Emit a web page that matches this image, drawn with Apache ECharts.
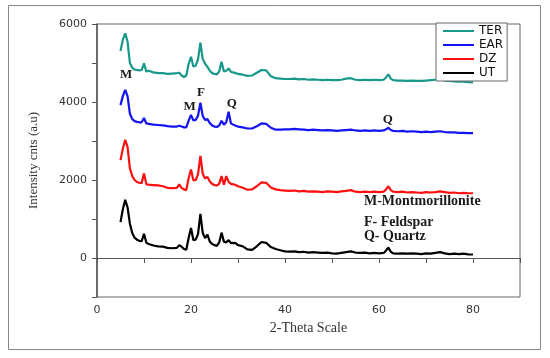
<!DOCTYPE html>
<html><head><meta charset="utf-8">
<script src="https://cdn.jsdelivr.net/npm/echarts@6/dist/echarts.min.js"></script>
<style>html,body{margin:0;padding:0;background:#fff}#c{width:550px;height:358px}</style>
</head><body><div id="c"></div>
<script>
const twoTheta = [5,5.5,6,6.5,7,7.5,8,8.5,9,9.5,10,10.5,11,12,13,14,15,16,17,17.5,18,18.5,19,19.5,20,20.5,21,21.5,22,22.5,23,23.5,24,24.5,25,25.5,26,26.5,27,27.5,28,28.5,29,29.5,30,31,32,33,34,35,36,37,38,39,40,41,42,43,44,45,46,47,48,49,50,51,52,53,54,55,56,57,58,59,60,61,61.5,62,62.5,63,64,65,66,67,68,69,70,71,72,73,74,75,76,77,78,79,80];
const UT = [920,1250,1490,1300,880,640,520,470,440,430,620,390,360,320,300,290,260,250,260,330,290,230,210,520,770,460,470,620,1130,640,510,600,420,360,330,310,400,650,420,400,460,380,390,380,330,300,220,210,300,410,390,280,230,200,170,165,170,150,160,140,150,140,130,140,120,110,130,150,170,140,130,140,120,130,120,130,190,270,160,120,110,120,110,120,110,100,120,110,130,150,120,100,110,100,110,95,90];
const DZ = [2510,2800,3030,2850,2300,2100,2000,1950,1930,1920,2170,1890,1880,1870,1860,1840,1800,1790,1800,1890,1800,1760,1740,2050,2270,1990,2000,2150,2620,2160,2040,2080,1960,1900,1870,1860,1900,2100,1880,2100,1950,1900,1890,1870,1840,1800,1750,1760,1840,1940,1930,1810,1760,1740,1730,1720,1730,1710,1720,1700,1710,1700,1690,1710,1700,1690,1710,1720,1740,1700,1690,1700,1690,1700,1690,1700,1760,1840,1740,1700,1690,1700,1680,1690,1680,1670,1690,1680,1690,1710,1690,1670,1680,1660,1670,1660,1660];
const EAR = [3920,4150,4310,4150,3700,3560,3510,3490,3480,3480,3590,3450,3440,3420,3410,3400,3380,3370,3370,3390,3370,3350,3350,3520,3670,3530,3540,3650,3980,3640,3540,3560,3460,3400,3370,3360,3400,3520,3420,3480,3750,3450,3420,3390,3370,3350,3320,3320,3380,3450,3440,3340,3290,3290,3300,3300,3310,3300,3290,3280,3290,3280,3270,3280,3270,3260,3270,3280,3290,3270,3260,3270,3260,3270,3260,3270,3300,3340,3280,3260,3250,3260,3240,3250,3240,3230,3240,3230,3240,3250,3230,3220,3220,3210,3210,3200,3200];
const TER = [5310,5600,5760,5550,5000,4880,4830,4820,4810,4820,4990,4780,4800,4760,4740,4740,4720,4730,4740,4750,4680,4640,4680,4980,5160,4910,4930,5100,5520,5100,4980,4900,4800,4740,4720,4710,4780,5030,4780,4800,4860,4770,4760,4740,4720,4700,4670,4680,4750,4820,4810,4660,4610,4600,4590,4590,4600,4580,4590,4570,4580,4570,4560,4570,4560,4560,4570,4600,4610,4570,4560,4570,4560,4570,4560,4570,4630,4710,4600,4560,4550,4550,4540,4550,4540,4540,4550,4560,4570,4580,4550,4540,4530,4520,4520,4510,4505];
const seriesNames = ['TER','EAR','DZ','UT'];
const peakLabels = ['M','M','F','Q','Q'];
const peakX = [6.2,19.7,22.1,28.7,61.9];
const peakY = [4690,3870,4230,3970,3540];
const noteLines = ['M-Montmorillonite','F- Feldspar','Q- Quartz'];
const noteX = [56.8,56.8,56.8];
const noteY = [1460,920,550];

const colors = {TER:'#17988a', EAR:'#1414f0', DZ:'#ff1010', UT:'#000000'};
const dataMap = {TER:TER, EAR:EAR, DZ:DZ, UT:UT};
const pair = arr => twoTheta.map((x,i)=>[x,arr[i]]);

const chart = echarts.init(document.getElementById('c'), null, {renderer:'canvas'});
const drawOrder = ['UT','DZ','EAR','TER'];
chart.setOption({
  animation:false,
  backgroundColor:'#fff',
  grid:{left:97,right:30,top:24,bottom:61,show:true,borderColor:'#666',borderWidth:1},
  legend:{
    data:seriesNames, orient:'vertical', left:436, top:23,
    padding:[2,4,2,6], itemGap:2, itemWidth:31, itemHeight:11,
    borderColor:'#666', borderWidth:1, backgroundColor:'#fff',
    itemStyle:{opacity:0},
    textStyle:{fontFamily:'DejaVu Sans', fontSize:12, color:'#111'},
  },
  xAxis:{
    type:'value', min:0, max:90, interval:10,
    name:'2-Theta Scale', nameLocation:'middle', nameGap:23,
    nameTextStyle:{fontFamily:'Liberation Serif', fontSize:14, color:'#333'},
    axisLine:{lineStyle:{color:'#555',width:1}},
    axisTick:{show:true, inside:false, length:5, lineStyle:{color:'#555'}},
    axisLabel:{fontFamily:'DejaVu Sans', fontSize:11, color:'#333', margin:8,
      formatter:v => (v%20===0 && v<90) ? String(v) : ''},
    splitLine:{show:false}
  },
  yAxis:{
    type:'value', min:-1000, max:6000, interval:1000,
    name:'Intensity cnts (a.u)', nameLocation:'middle', nameGap:57,
    nameTextStyle:{fontFamily:'Liberation Serif', fontSize:13, color:'#333'},
    axisLine:{show:true, lineStyle:{color:'#555',width:1.5}},
    axisTick:{show:true, inside:false, length:5, lineStyle:{color:'#555'}},
    axisLabel:{fontFamily:'DejaVu Sans', fontSize:11, color:'#333', margin:10,
      formatter:v => (v%2000===0) ? String(v) : ''},
    splitLine:{show:false}
  },
  series: drawOrder.map(n => ({
    name:n, type:'line', data:pair(dataMap[n]), symbol:'none',
    lineStyle:{color:colors[n], width:2.2}, itemStyle:{color:colors[n]}
  }))
});

const graphics = [{type:'rect', shape:{x:8.5,y:5.5,width:532,height:344}, style:{fill:'none', stroke:'#888', lineWidth:1}, silent:true}];
peakLabels.forEach((t,i)=>{
  const p = chart.convertToPixel({gridIndex:0},[peakX[i],peakY[i]]);
  graphics.push({type:'text', x:p[0], y:p[1], style:{text:t, fontFamily:'Liberation Serif', fontWeight:'bold', fontSize:13, fill:'#1a1a1a', align:'center', verticalAlign:'middle'}});
});
noteLines.forEach((t,i)=>{
  const p = chart.convertToPixel({gridIndex:0},[noteX[i],noteY[i]]);
  graphics.push({type:'text', x:p[0], y:p[1], style:{text:t, fontFamily:'Liberation Serif', fontWeight:'bold', fontSize:14, fill:'#1a1a1a', align:'left', verticalAlign:'middle'}});
});
chart.setOption({graphic:graphics});
</script></body></html>
